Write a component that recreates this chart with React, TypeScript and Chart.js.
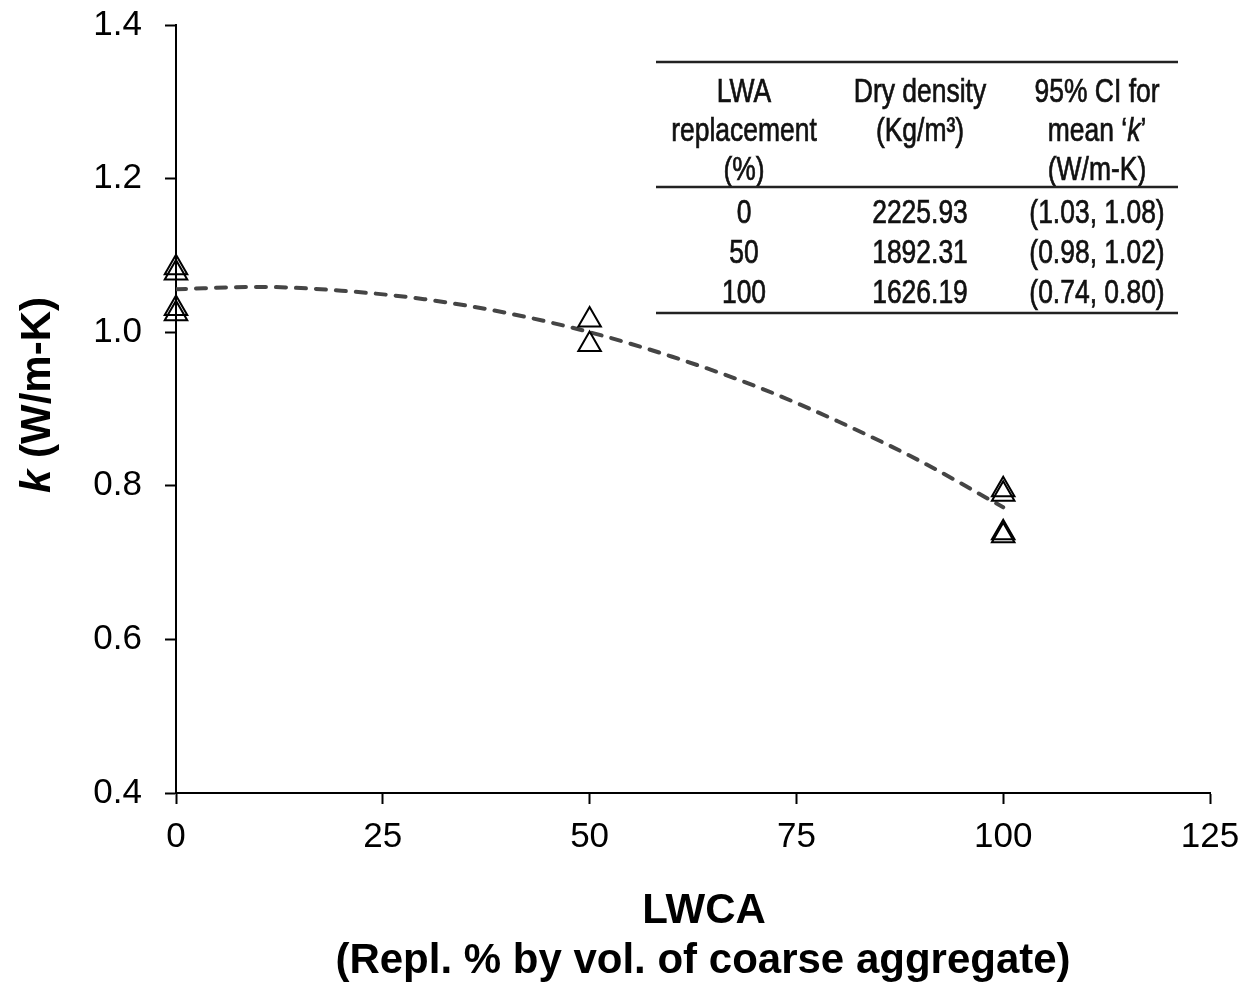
import React, { useEffect, useRef } from "react";
import { Chart, registerables } from "chart.js";

Chart.register(...registerables);

// Measured thermal conductivity k (W/m-K) against LWCA replacement (%)
const sampleReplacement = [0, 0, 0, 0, 50, 50, 100, 100, 100, 100];
const sampleK = [1.084, 1.077, 1.031, 1.024, 1.016, 0.984, 0.795, 0.789, 0.739, 0.735];

// Second-order trend line through the measurements
const trendReplacement = [0, 10, 20, 30, 40, 50, 60, 70, 80, 90, 100];
const trendK = [1.056, 1.059, 1.054, 1.043, 1.025, 1.0, 0.968, 0.93, 0.884, 0.832, 0.772];

// Axis ticks
const xTicks = [0, 25, 50, 75, 100, 125];
const yTicks = [0.4, 0.6, 0.8, 1.0, 1.2, 1.4];

// Inset summary table
const tableHeader1 = ["LWA", "replacement", "(%)"];
const tableHeader2 = ["Dry density", "(Kg/m³)"];
const tableHeader3 = ["95% CI for", "mean ‘k’", "(W/m-K)"];
const tableReplacement = ["0", "50", "100"];
const tableDensity = ["2225.93", "1892.31", "1626.19"];
const tableInterval = ["(1.03, 1.08)", "(0.98, 1.02)", "(0.74, 0.80)"];

const SANS = "'Liberation Sans', Arial, sans-serif";
const TABLE_INK = "#111";

// Draw a run of text, slightly emboldened by a hairline outline
function inkText(ctx: CanvasRenderingContext2D, text: string, x: number, y: number) {
  ctx.fillText(text, x, y);
  ctx.strokeText(text, x, y);
}

// Narrow text by squeezing a regular face horizontally
function narrowText(
  ctx: CanvasRenderingContext2D,
  text: string,
  cx: number,
  baseline: number,
  size: number,
  sx: number
) {
  ctx.save();
  ctx.font = `${size}px ${SANS}`;
  ctx.textAlign = "center";
  ctx.textBaseline = "alphabetic";
  ctx.translate(cx, baseline);
  ctx.scale(sx, 1);
  inkText(ctx, text, 0, 0);
  ctx.restore();
}

// "mean ‘k’" with an italic k
function narrowMeanK(
  ctx: CanvasRenderingContext2D,
  cx: number,
  baseline: number,
  size: number,
  sx: number
) {
  ctx.save();
  ctx.translate(cx, baseline);
  ctx.scale(sx, 1);
  ctx.textBaseline = "alphabetic";
  ctx.textAlign = "left";
  const a = "mean ‘";
  const b = "k";
  const c = "’";
  ctx.font = `${size}px ${SANS}`;
  const wa = ctx.measureText(a).width;
  const wc = ctx.measureText(c).width;
  ctx.font = `italic ${size}px ${SANS}`;
  const wb = ctx.measureText(b).width;
  let x = -(wa + wb + wc) / 2;
  ctx.font = `${size}px ${SANS}`;
  inkText(ctx, a, x, 0);
  x += wa;
  ctx.font = `italic ${size}px ${SANS}`;
  inkText(ctx, b, x, 0);
  x += wb;
  ctx.font = `${size}px ${SANS}`;
  inkText(ctx, c, x, 0);
  ctx.restore();
}

const decorations = {
  id: "decorations",
  afterDraw(chart: Chart) {
    const ctx = chart.ctx;
    ctx.save();
    ctx.fillStyle = "#000";

    // Y axis title: italic bold k followed by bold units, rotated
    {
      const size = 42;
      ctx.save();
      ctx.translate(50, 395);
      ctx.rotate(-Math.PI / 2);
      ctx.textBaseline = "alphabetic";
      ctx.textAlign = "left";
      const k = "k";
      const rest = " (W/m-K)";
      ctx.font = `italic bold ${size}px ${SANS}`;
      const wk = ctx.measureText(k).width;
      ctx.font = `bold ${size}px ${SANS}`;
      const wr = ctx.measureText(rest).width;
      let x = -(wk + wr) / 2;
      ctx.font = `italic bold ${size}px ${SANS}`;
      ctx.fillText(k, x, 0);
      x += wk;
      ctx.font = `bold ${size}px ${SANS}`;
      ctx.fillText(rest, x, 0);
      ctx.restore();
    }

    // X axis title, two lines
    ctx.font = `bold 42px ${SANS}`;
    ctx.textAlign = "center";
    ctx.textBaseline = "alphabetic";
    ctx.fillText("LWCA", 704, 923);
    ctx.fillText("(Repl. % by vol. of coarse aggregate)", 703, 973);

    // Inset table
    const size = 33.5;
    const sx = 0.79;
    const col1 = 744;
    const col2 = 920;
    const col3 = 1097;
    const headBase = [102, 141, 180];
    const rowBase = [223, 263, 303];
    ctx.fillStyle = TABLE_INK;
    ctx.strokeStyle = TABLE_INK;
    ctx.lineWidth = 0.7;
    tableHeader1.forEach((t, i) => narrowText(ctx, t, col1, headBase[i], size, sx));
    tableHeader2.forEach((t, i) => narrowText(ctx, t, col2, headBase[i], size, sx));
    tableHeader3.forEach((t, i) => {
      if (i === 1) narrowMeanK(ctx, col3, headBase[i], size, sx);
      else narrowText(ctx, t, col3, headBase[i], size, sx);
    });
    for (let r = 0; r < 3; r++) {
      narrowText(ctx, tableReplacement[r], col1, rowBase[r], size, sx);
      narrowText(ctx, tableDensity[r], col2, rowBase[r], size, sx);
      narrowText(ctx, tableInterval[r], col3, rowBase[r], size, sx);
    }
    ctx.strokeStyle = "#222";
    ctx.lineWidth = 2.5;
    [62, 187, 313].forEach((y) => {
      ctx.beginPath();
      ctx.moveTo(656, y);
      ctx.lineTo(1178, y);
      ctx.stroke();
    });
    ctx.restore();
  },
};

export default function App() {
  const canvasRef = useRef<HTMLCanvasElement | null>(null);

  useEffect(() => {
    if (!canvasRef.current) return;
    const samples = sampleReplacement.map((x, i) => ({ x, y: sampleK[i] }));
    const trend = trendReplacement.map((x, i) => ({ x, y: trendK[i] }));

    const chart = new Chart(canvasRef.current, {
      type: "scatter",
      data: {
        datasets: [
          {
            type: "line",
            label: "Trend",
            data: trend,
            borderColor: "#454545",
            borderWidth: 4,
            borderDash: [10, 10],
            borderCapStyle: "round",
            pointRadius: 0,
            fill: false,
            tension: 0.4,
            cubicInterpolationMode: "monotone",
            order: 2,
          },
          {
            label: "k",
            data: samples,
            pointStyle: "triangle",
            pointRadius: 13,
            pointHoverRadius: 13,
            borderColor: "#000",
            borderWidth: 2,
            backgroundColor: "rgba(0,0,0,0)",
            clip: false,
            order: 1,
          },
        ],
      },
      options: {
        animation: false,
        responsive: false,
        devicePixelRatio: 1,
        layout: { padding: { left: 0, right: 36, top: 25, bottom: 0 } },
        plugins: {
          legend: { display: false },
          tooltip: { enabled: false },
          title: { display: false },
        },
        scales: {
          x: {
            type: "linear",
            min: xTicks[0],
            max: xTicks[xTicks.length - 1],
            afterBuildTicks: (s: any) => {
              s.ticks = xTicks.map((v) => ({ value: v }));
            },
            afterFit: (s: any) => {
              s.height = 190;
              s.paddingLeft = 0;
              s.paddingRight = 0;
            },
            ticks: {
              color: "#000",
              font: { family: SANS, size: 35 },
              padding: 12,
              maxRotation: 0,
              callback: (v: any) => String(v),
            },
            grid: {
              drawOnChartArea: false,
              drawTicks: true,
              tickLength: 11,
              tickWidth: 2,
              color: "#000",
            },
            border: { display: true, color: "#000", width: 2 },
          },
          y: {
            type: "linear",
            min: yTicks[0],
            max: yTicks[yTicks.length - 1],
            afterBuildTicks: (s: any) => {
              s.ticks = yTicks.map((v) => ({ value: v }));
            },
            afterFit: (s: any) => {
              s.width = 176;
              s.paddingTop = 0;
              s.paddingBottom = 0;
            },
            ticks: {
              color: "#000",
              font: { family: SANS, size: 35 },
              padding: 23,
              callback: (v: any) => Number(v).toFixed(1),
            },
            grid: {
              drawOnChartArea: false,
              drawTicks: true,
              tickLength: 11,
              tickWidth: 2,
              color: "#000",
            },
            border: { display: true, color: "#000", width: 2 },
          },
        },
      },
      plugins: [decorations],
    } as any);

    return () => chart.destroy();
  }, []);

  return (
    <div style={{ position: "fixed", left: 0, top: 0, width: 1246, height: 983, background: "#fff" }}>
      <canvas ref={canvasRef} width={1246} height={983} />
    </div>
  );
}
